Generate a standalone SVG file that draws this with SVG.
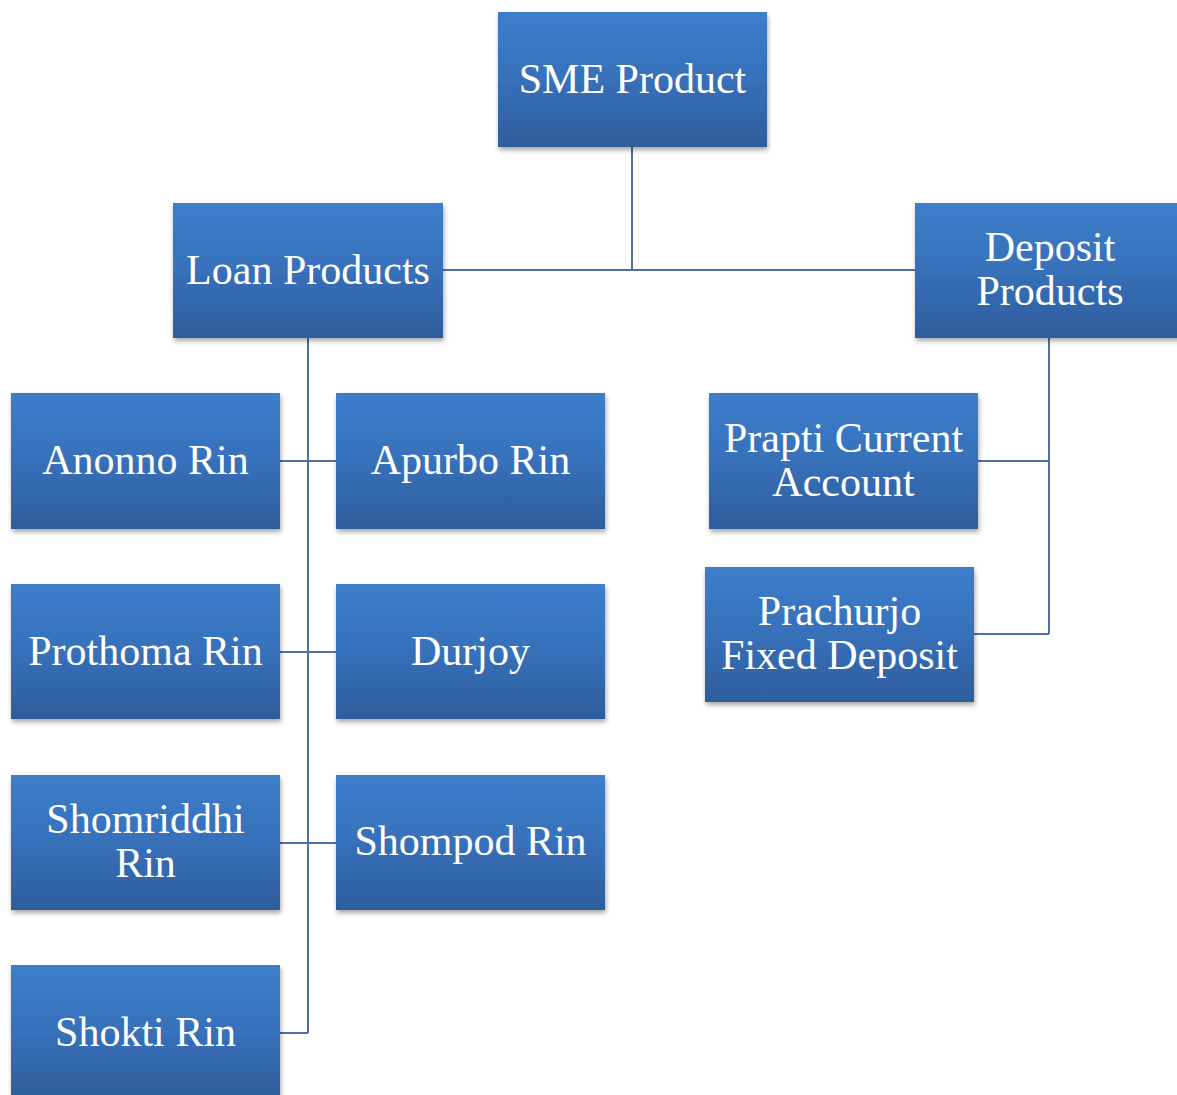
<svg xmlns="http://www.w3.org/2000/svg" width="1177" height="1095" viewBox="0 0 1177 1095">
<defs>
<linearGradient id="g" x1="0" y1="0" x2="0" y2="1">
<stop offset="0" stop-color="#3C7ECB"/>
<stop offset="0.5" stop-color="#3770BA"/>
<stop offset="1" stop-color="#2E5D9B"/>
</linearGradient>
<filter id="sh" x="-10%" y="-10%" width="125%" height="130%">
<feDropShadow dx="1" dy="3" stdDeviation="2.5" flood-color="#000" flood-opacity="0.35"/>
</filter>
</defs>
<style>
.box{fill:url(#g);filter:url(#sh)}
.t{font-family:"Liberation Serif","Times New Roman",serif;font-size:42px;fill:#fff;text-anchor:middle}
.c{fill:none;stroke:#4A71AA;stroke-width:2}
</style>
<rect width="1177" height="1095" fill="#fff"/>
<g id="connectors">
<path class="c" d="M632,147V270M443,270H915"/>
<path class="c" d="M308,338V1033M280,461H336M280,652H336M280,843H336M280,1033H308"/>
<path class="c" d="M1049,338V634M978,461H1049M974,634H1049"/>
</g>
<g id="sme"><rect class="box" x="498" y="12" width="269" height="135"/><text class="t" x="632.5" y="93">SME Product</text></g>
<g id="loan"><rect class="box" x="173" y="203" width="270" height="135"/><text class="t" x="308" y="284">Loan Products</text></g>
<g id="deposit"><rect class="box" x="915" y="203" width="270" height="135"/><text class="t" x="1050" y="261">Deposit</text><text class="t" x="1050" y="305">Products</text></g>
<g id="anonno"><rect class="box" x="11" y="393" width="269" height="136"/><text class="t" x="145.5" y="474">Anonno Rin</text></g>
<g id="apurbo"><rect class="box" x="336" y="393" width="269" height="136"/><text class="t" x="470.5" y="474">Apurbo Rin</text></g>
<g id="prothoma"><rect class="box" x="11" y="584" width="269" height="135"/><text class="t" x="145.5" y="665">Prothoma Rin</text></g>
<g id="durjoy"><rect class="box" x="336" y="584" width="269" height="135"/><text class="t" x="470.5" y="665">Durjoy</text></g>
<g id="shomriddhi"><rect class="box" x="11" y="775" width="269" height="135"/><text class="t" x="145.5" y="833">Shomriddhi</text><text class="t" x="145.5" y="877">Rin</text></g>
<g id="shompod"><rect class="box" x="336" y="775" width="269" height="135"/><text class="t" x="470.5" y="855">Shompod Rin</text></g>
<g id="shokti"><rect class="box" x="11" y="965" width="269" height="135"/><text class="t" x="145.5" y="1046">Shokti Rin</text></g>
<g id="prapti"><rect class="box" x="709" y="393" width="269" height="136"/><text class="t" x="843.5" y="452">Prapti Current</text><text class="t" x="843.5" y="496">Account</text></g>
<g id="prachurjo"><rect class="box" x="705" y="567" width="269" height="135"/><text class="t" x="839.5" y="625">Prachurjo</text><text class="t" x="839.5" y="669">Fixed Deposit</text></g>
</svg>
